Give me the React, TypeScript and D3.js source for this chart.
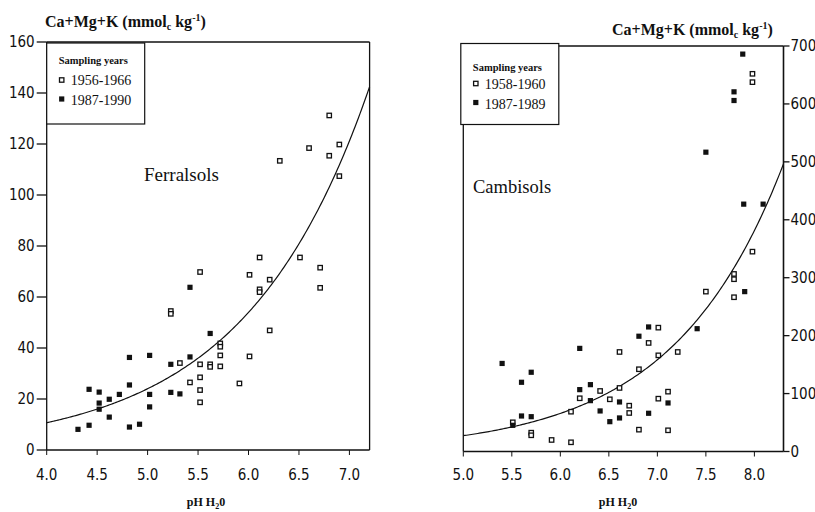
import React from "react";
import * as d3 from "d3";

// ---------- DATA ----------
// Ferralsols: [pH, Ca+Mg+K]
const ferralsolsOld: [number, number][] = [
  [5.32, 34.1], [5.42, 26.5], [5.52, 33.6], [5.52, 28.5], [5.52, 23.5], [5.52, 18.7],
  [5.23, 54.5], [5.23, 53.4], [5.52, 69.8], [5.62, 33.6], [5.62, 32.6], [5.72, 41.8],
  [5.72, 40.5], [5.72, 37.1], [5.72, 32.8], [5.91, 26.1], [6.01, 68.7], [6.01, 36.7],
  [6.11, 75.5], [6.11, 63.0], [6.11, 61.9], [6.21, 66.8], [6.21, 46.9], [6.51, 75.5],
  [6.71, 71.5], [6.71, 63.6], [6.31, 113.4], [6.6, 118.4], [6.8, 131.2], [6.8, 115.4],
  [6.9, 119.8], [6.9, 107.4],
];
const ferralsolsNew: [number, number][] = [
  [4.31, 8.1], [4.42, 9.7], [4.42, 23.8], [4.52, 22.7], [4.52, 18.4], [4.52, 16.0],
  [4.62, 19.9], [4.62, 12.9], [4.72, 21.8], [4.82, 36.3], [4.82, 25.5], [4.82, 9.0],
  [4.92, 10.1], [5.02, 37.1], [5.02, 21.8], [5.02, 16.9], [5.23, 33.6], [5.23, 22.6],
  [5.32, 22.0], [5.42, 63.8], [5.42, 36.5], [5.62, 45.7],
];
// Cambisols
const cambisolsOld: [number, number][] = [
  [5.51, 50.4], [5.7, 32.5], [5.7, 28.0], [5.91, 19.9], [6.11, 15.9], [6.11, 68.7],
  [6.2, 91.9], [6.41, 104.5], [6.51, 90.1], [6.61, 171.8], [6.61, 109.7], [6.71, 79.1],
  [6.71, 66.5], [6.81, 142], [6.81, 37.7], [6.91, 187.4], [7.01, 213.8], [7.01, 166],
  [7.01, 91.2], [7.11, 103.3], [7.11, 36.6], [7.21, 171.8], [7.5, 276], [7.79, 306.5],
  [7.79, 297.4], [7.79, 266.3], [7.98, 345], [7.98, 652], [7.98, 637.6],
];
const cambisolsNew: [number, number][] = [
  [5.4, 152], [5.6, 119.5], [5.7, 136.8], [5.6, 61.3], [5.7, 60.1], [5.51, 45.2],
  [6.2, 178], [6.2, 106.8], [6.31, 115.4], [6.31, 87.8], [6.41, 70], [6.51, 51.5],
  [6.61, 85.5], [6.61, 57.9], [6.81, 199], [6.91, 215], [6.91, 66], [7.11, 83.8],
  [7.41, 212], [7.9, 276], [7.5, 516.7], [7.79, 620.9], [7.79, 605.9], [7.88, 686],
  [7.89, 427], [8.09, 427],
];

// fitted exponential curves: value = a * exp(b * (pH - pH0))
const ferralsolsFit = { a: 10.7, b: 0.809, pH0: 4.0 };
const cambisolsFit = { a: 27.3, b: 0.879, pH0: 5.0 };

const leftXTicks = [4.0, 4.5, 5.0, 5.5, 6.0, 6.5, 7.0];
const leftYTicks = [0, 20, 40, 60, 80, 100, 120, 140, 160];
const rightXTicks = [5.0, 5.5, 6.0, 6.5, 7.0, 7.5, 8.0];
const rightYTicks = [0, 100, 200, 300, 400, 500, 600, 700];

const leftLegend = ["1956-1966", "1987-1990"];
const rightLegend = ["1958-1960", "1987-1989"];

// ---------- LAYOUT ----------
const W = 815;
const H = 512;
const tickFont = "'Liberation Sans Narrow', 'DejaVu Sans Condensed', 'Liberation Sans', Arial, sans-serif";
const serif = "'Liberation Serif', 'Times New Roman', serif";

const Sq = ({ x, y, filled }: { x: number; y: number; filled: boolean }) =>
  filled ? (
    <rect x={x - 2.6} y={y - 2.6} width={5.2} height={5.2} fill="#111" />
  ) : (
    <rect x={x - 2.2} y={y - 2.2} width={4.4} height={4.4} fill="white" stroke="#111" strokeWidth={1.3} />
  );

const YTitle = ({ x, y }: { x: number; y: number }) => (
  <text x={x} y={y} fontFamily={serif} fontSize={16} fontWeight="bold" fill="#111">
    Ca+Mg+K (mmol
    <tspan fontSize={10} dy={3}>c</tspan>
    <tspan dy={-3}> kg</tspan>
    <tspan fontSize={10} dy={-6}>-1</tspan>
    <tspan dy={6}>)</tspan>
  </text>
);

const XTitle = ({ x, y }: { x: number; y: number }) => (
  <text x={x} y={y} fontFamily={serif} fontSize={12} fontWeight="bold" textAnchor="middle" fill="#111">
    pH H<tspan fontSize={8} dy={3}>2</tspan>
    <tspan dy={-3}>0</tspan>
  </text>
);

const Legend = ({ x, y, labels, off }: { x: number; y: number; labels: string[]; off: number }) => (
  <g>
    <rect x={x} y={y} width={98} height={81} fill="white" stroke="#111" strokeWidth={1.2} />
    <text x={x + 12} y={y + 21 + off} fontFamily={serif} fontSize={10.5} fontWeight="bold" fill="#111">
      Sampling years
    </text>
    {labels.map((l, i) => (
      <g key={l}>
        <Sq x={x + 15} y={y + 37 + off * 0.5 + i * 19} filled={i === 1} />
        <text x={x + 24} y={y + 42 + off * 0.5 + i * 20} fontFamily={serif} fontSize={14} fill="#111">
          {l}
        </text>
      </g>
    ))}
  </g>
);

export default function App() {
  // Left panel scales
  const xL = d3.scaleLinear().domain([4.0, 7.2]).range([46.7, 369.6]);
  const yL = d3.scaleLinear().domain([0, 160]).range([450, 42]);
  // Right panel scales
  const xR = d3.scaleLinear().domain([5.0, 8.3]).range([463.3, 783.5]);
  const yR = d3.scaleLinear().domain([0, 700]).range([451.5, 46]);

  const curve = (fit: { a: number; b: number; pH0: number }, x: d3.ScaleLinear<number, number>, y: d3.ScaleLinear<number, number>) => {
    const [d0, d1] = x.domain();
    const pts = d3.range(0, 201).map((i) => d0 + ((d1 - d0) * i) / 200);
    return d3
      .line<number>()
      .x((p) => x(p))
      .y((p) => y(fit.a * Math.exp(fit.b * (p - fit.pH0))))(pts) as string;
  };

  const ln = { stroke: "#111", strokeWidth: 1.3, fill: "none" };

  return (
    <svg width={W} height={H} style={{ position: "fixed", left: 0, top: 0, background: "white" }}>
      <rect width={W} height={H} fill="white" />
      {/* ---------- LEFT PANEL ---------- */}
      <g>
        <line x1={xL(4)} x2={xL(7.2)} y1={yL(160)} y2={yL(160)} {...ln} strokeWidth={1.6} />
        <line x1={xL(7.2)} x2={xL(7.2)} y1={yL(160)} y2={yL(0)} {...ln} />
        <line x1={xL(4)} x2={xL(4)} y1={yL(160)} y2={yL(0)} {...ln} />
        <line x1={xL(4)} x2={xL(7.2)} y1={yL(0)} y2={yL(0)} {...ln} strokeWidth={1.6} />
        {leftYTicks.map((t) => (
          <g key={t}>
            <line x1={xL(4) - 10} x2={xL(4)} y1={yL(t)} y2={yL(t)} {...ln} />
            <text x={xL(4) - 12} y={yL(t) + 5} textAnchor="end" fontFamily={tickFont} fontSize={15} fill="#111">
              {t}
            </text>
          </g>
        ))}
        {leftXTicks.map((t) => (
          <g key={t}>
            <line x1={xL(t)} x2={xL(t)} y1={yL(0)} y2={yL(0) + 5} {...ln} strokeWidth={1} />
            <text x={xL(t)} y={480} textAnchor="middle" fontFamily={tickFont} fontSize={15} fill="#111">
              {t.toFixed(1)}
            </text>
          </g>
        ))}
        <path d={curve(ferralsolsFit, xL, yL)} {...ln} strokeWidth={1.2} />
        {ferralsolsOld.map(([p, v], i) => (
          <Sq key={"fo" + i} x={xL(p)} y={yL(v)} filled={false} />
        ))}
        {ferralsolsNew.map(([p, v], i) => (
          <Sq key={"fn" + i} x={xL(p)} y={yL(v)} filled={true} />
        ))}
        <Legend x={xL(4)} y={yL(160) + 1} labels={leftLegend} off={0} />
        <text x={144} y={181} fontFamily={serif} fontSize={19} fill="#111">
          Ferralsols
        </text>
        <YTitle x={45} y={27} />
        <XTitle x={206} y={506} />
      </g>

      {/* ---------- RIGHT PANEL ---------- */}
      <g>
        <line x1={xR(5)} x2={xR(8.3)} y1={yR(700)} y2={yR(700)} {...ln} strokeWidth={1.6} />
        <line x1={xR(5)} x2={xR(5)} y1={yR(700)} y2={yR(0)} {...ln} />
        <line x1={xR(8.3)} x2={xR(8.3)} y1={yR(700)} y2={yR(0)} {...ln} strokeWidth={1.6} />
        <line x1={xR(5)} x2={xR(8.3)} y1={yR(0)} y2={yR(0)} {...ln} strokeWidth={1.6} />
        {rightYTicks.map((t) => (
          <g key={t}>
            <line x1={xR(8.3)} x2={xR(8.3) + 6} y1={yR(t)} y2={yR(t)} {...ln} />
            <text x={xR(8.3) + 7} y={yR(t) + 5} textAnchor="start" fontFamily={tickFont} fontSize={15} fill="#111">
              {t}
            </text>
          </g>
        ))}
        {rightXTicks.map((t) => (
          <g key={t}>
            <line x1={xR(t)} x2={xR(t)} y1={yR(0)} y2={yR(0) + 5} {...ln} strokeWidth={1} />
            <text x={xR(t)} y={480} textAnchor="middle" fontFamily={tickFont} fontSize={15} fill="#111">
              {t.toFixed(1)}
            </text>
          </g>
        ))}
        <path d={curve(cambisolsFit, xR, yR)} {...ln} strokeWidth={1.2} />
        {cambisolsOld.map(([p, v], i) => (
          <Sq key={"co" + i} x={xR(p)} y={yR(v)} filled={false} />
        ))}
        {cambisolsNew.map(([p, v], i) => (
          <Sq key={"cn" + i} x={xR(p)} y={yR(v)} filled={true} />
        ))}
        <Legend x={xR(5) - 2.5} y={yR(700) - 2.5} labels={rightLegend} off={6} />
        <text x={473} y={193} fontFamily={serif} fontSize={18.5} fill="#111">
          Cambisols
        </text>
        <YTitle x={612} y={35} />
        <XTitle x={618} y={506} />
      </g>
    </svg>
  );
}
